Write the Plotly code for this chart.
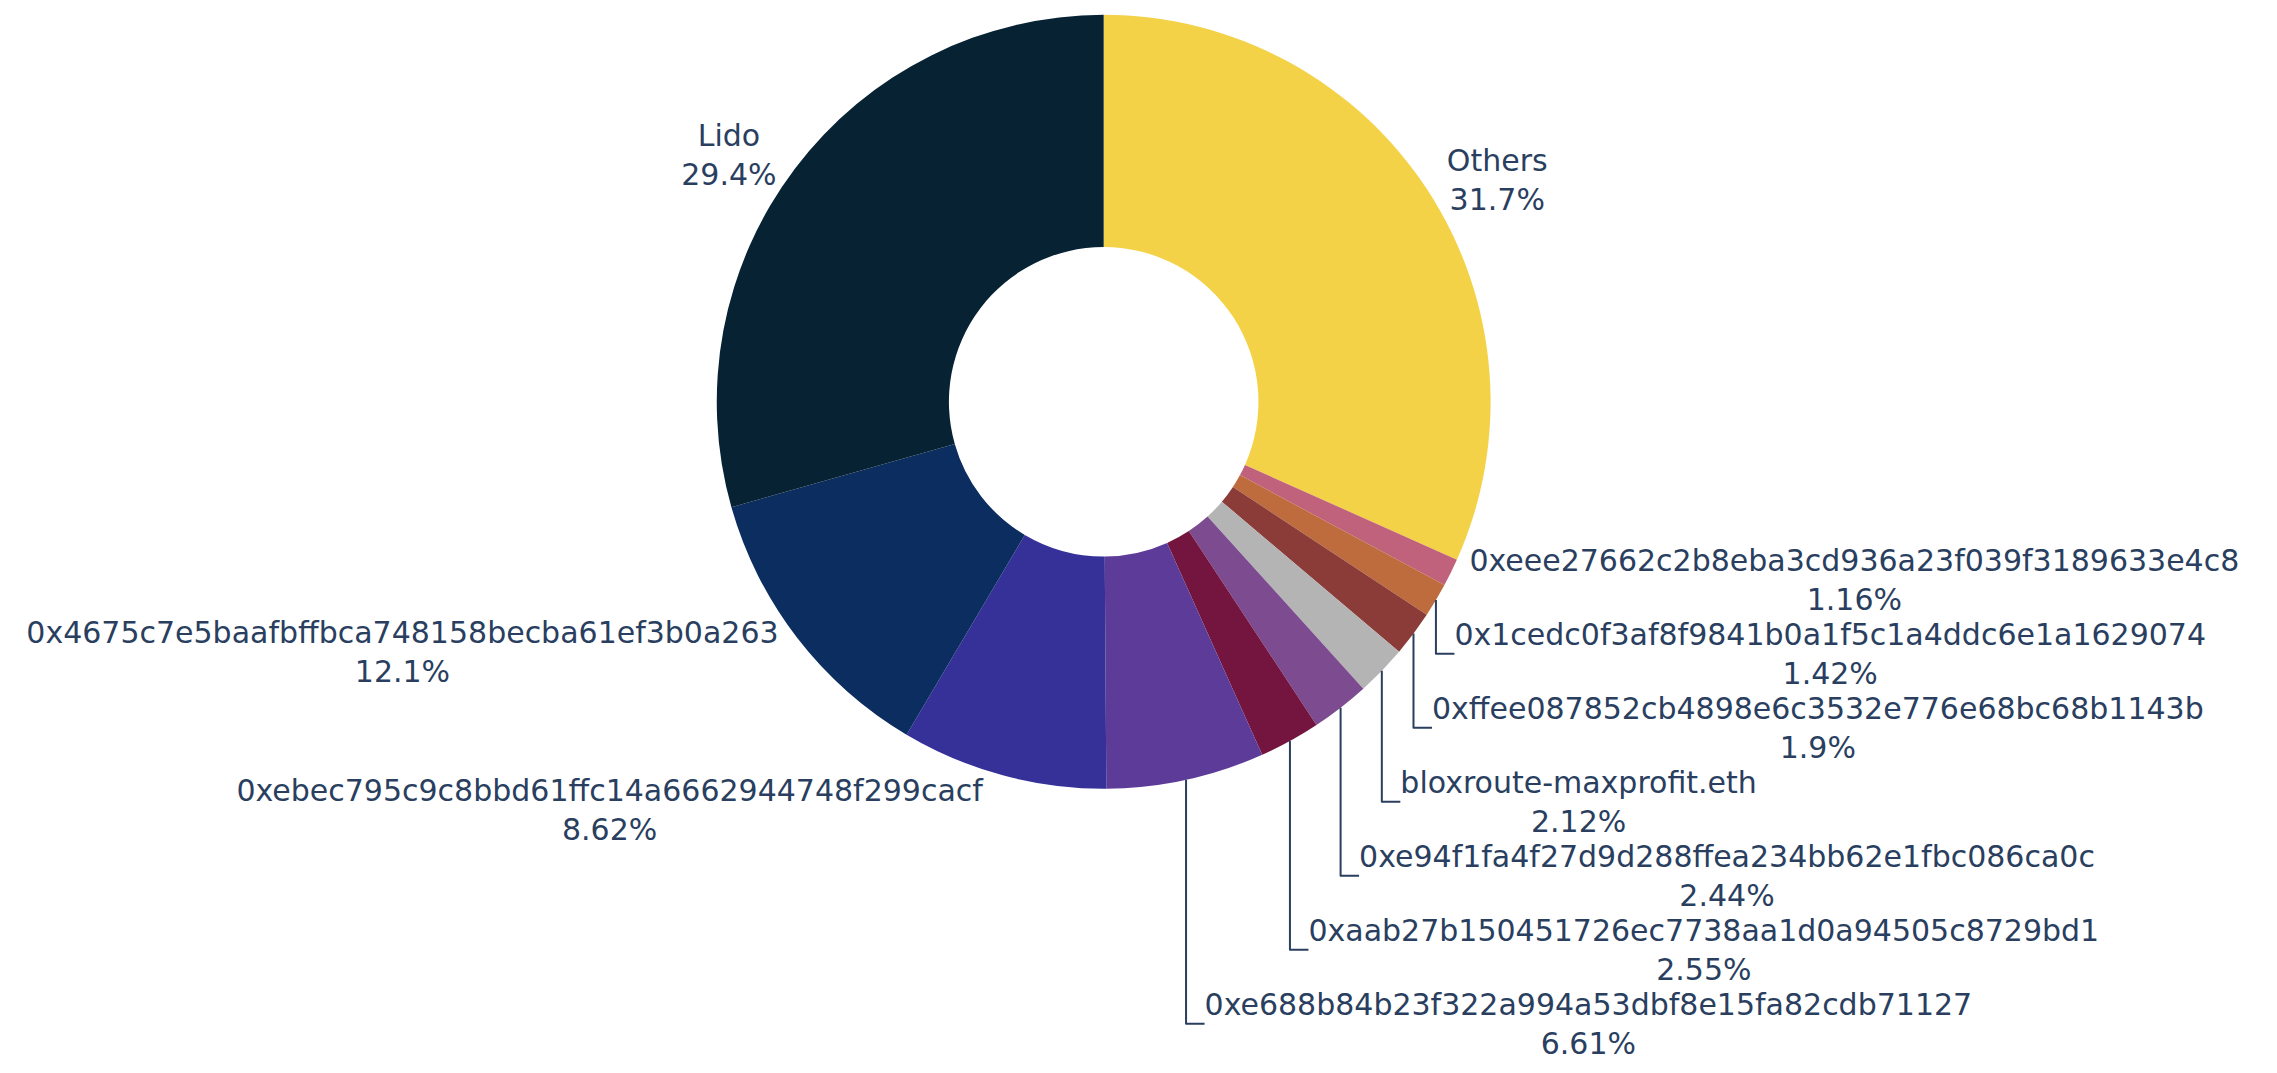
import plotly.graph_objects as go

labels = [
    "Others",
    "0xeee27662c2b8eba3cd936a23f039f3189633e4c8",
    "0x1cedc0f3af8f9841b0a1f5c1a4ddc6e1a1629074",
    "0xffee087852cb4898e6c3532e776e68bc68b1143b",
    "bloxroute-maxprofit.eth",
    "0xe94f1fa4f27d9d288ffea234bb62e1fbc086ca0c",
    "0xaab27b150451726ec7738aa1d0a94505c8729bd1",
    "0xe688b84b23f322a994a53dbf8e15fa82cdb71127",
    "0xebec795c9c8bbd61ffc14a6662944748f299cacf",
    "0x4675c7e5baafbffbca748158becba61ef3b0a263",
    "Lido",
]
shares = [31.7, 1.16, 1.42, 1.9, 2.12, 2.44, 2.55, 6.61, 8.62, 12.1, 29.4]
colors = [
    "#F4D247", "#C0627C", "#BE6B3D", "#8B3C39", "#B4B4B4", "#7D4B8F",
    "#74153F", "#5D3C99", "#353199", "#0C2D5F", "#062233",
]

fig = go.Figure(
    go.Pie(
        labels=labels,
        values=shares,
        sort=False,
        direction="clockwise",
        hole=0.4,
        textinfo="label+percent",
        textposition="outside",
        automargin=False,
        marker=dict(colors=colors),
        textfont=dict(family="DejaVu Sans", size=30, color="#2a3f5f"),
        domain=dict(x=[0, 0.9692], y=[0.2614, 0.9935]),
    )
)
fig.update_layout(
    showlegend=False,
    paper_bgcolor="white",
    plot_bgcolor="white",
    margin=dict(l=0, r=0, t=0, b=0, autoexpand=False),
    font=dict(family="DejaVu Sans", color="#2a3f5f"),
)
fig.write_html("out.html")
